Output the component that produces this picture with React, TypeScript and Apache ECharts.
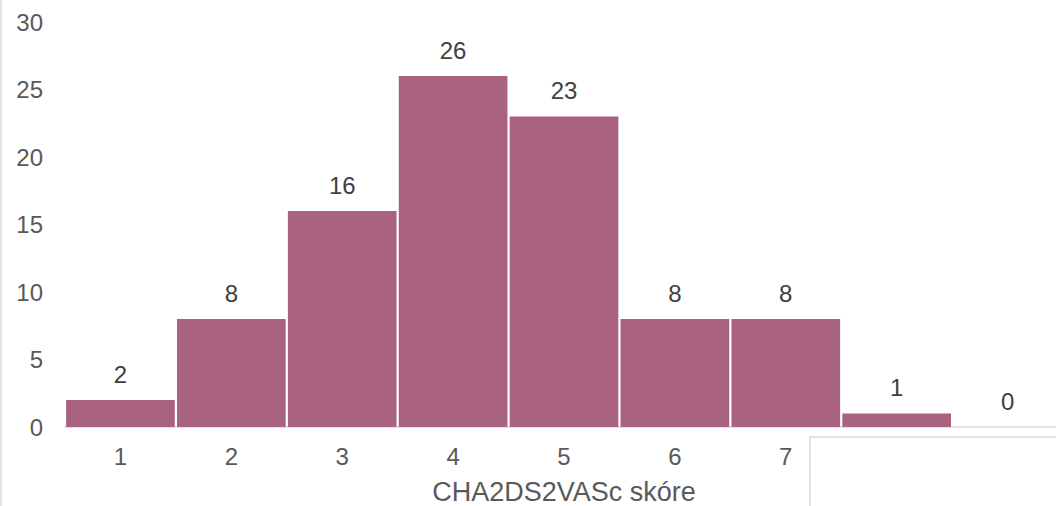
import React, { useEffect, useRef } from "react";
import * as echarts from "echarts";

const categories = ["1", "2", "3", "4", "5", "6", "7", "8", "9"];
const counts = [2, 8, 16, 26, 23, 8, 8, 1, 0];
const yTicks = { min: 0, max: 30, interval: 5 };
const axisTitle = "CHA2DS2VASc skóre";

export default function App() {
  const ref = useRef<HTMLDivElement>(null);
  useEffect(() => {
    document.body.style.margin = "0";
    const chart = echarts.init(ref.current!, null, { renderer: "svg" });
    const font = "'Liberation Sans', Arial, sans-serif";
    chart.setOption({
      animation: false,
      grid: { left: 65, top: 22, width: 998, bottom: 79, outerBoundsMode: "none", containLabel: false },
      xAxis: {
        type: "category",
        data: categories,
        name: axisTitle,
        nameLocation: "middle",
        nameGap: 51,
        nameTextStyle: { fontFamily: font, fontSize: 27, color: "#595959" },
        axisLine: { lineStyle: { color: "#d9d9d9", width: 1.5 } },
        axisTick: { show: false },
        axisLabel: {
          fontFamily: font,
          fontSize: 24,
          color: "#595959",
          margin: 17,
          formatter: (v: string, i: number) => (i < 7 ? v : ""),
        },
      },
      yAxis: {
        type: "value",
        min: yTicks.min,
        max: yTicks.max,
        interval: yTicks.interval,
        splitLine: { show: false },
        axisLine: { show: false },
        axisTick: { show: false },
        axisLabel: { fontFamily: font, fontSize: 24, color: "#595959", margin: 22 },
      },
      series: [
        {
          type: "bar",
          data: counts,
          barCategoryGap: "2%",
          itemStyle: { color: "#A9627F" },
          label: {
            show: true,
            position: "top",
            distance: 14,
            fontFamily: font,
            fontSize: 24,
            color: "#404040",
          },
        },
      ],
      graphic: [
        {
          type: "line",
          shape: { x1: 1, y1: 0, x2: 1, y2: 506 },
          style: { stroke: "#d9d9d9", lineWidth: 1.5 },
        },
        {
          type: "rect",
          z: 100,
          shape: { x: 810, y: 437, width: 260, height: 80 },
          style: { fill: "#ffffff", stroke: "#d9d9d9", lineWidth: 1.5 },
        },
      ],
    });
    return () => chart.dispose();
  }, []);
  return <div ref={ref} style={{ width: 1056, height: 506 }} />;
}
